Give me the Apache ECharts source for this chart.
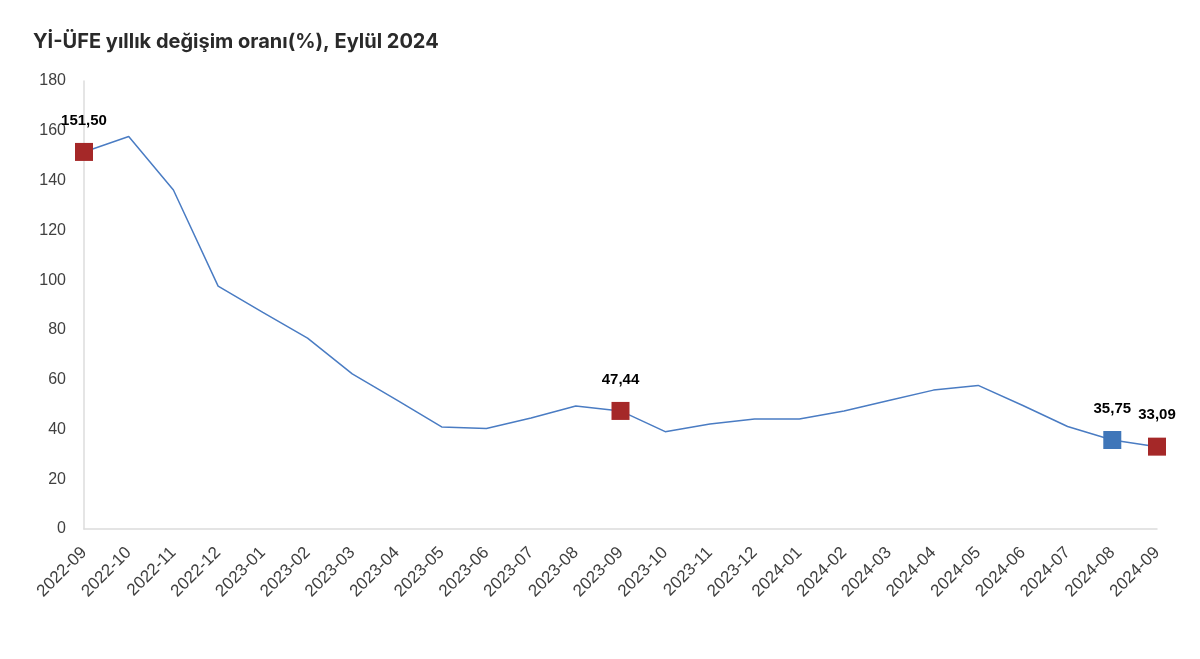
<!DOCTYPE html>
<html>
<head>
<meta charset="utf-8">
<script src="https://cdn.jsdelivr.net/npm/echarts@6/dist/echarts.min.js"></script>
<style>html,body{margin:0;padding:0;background:#fff;}#c{width:1200px;height:659px;}</style>
</head>
<body>
<div id="c"></div>
<script>
const categories = ['2022-09','2022-10','2022-11','2022-12','2023-01','2023-02','2023-03','2023-04','2023-05','2023-06','2023-07','2023-08','2023-09','2023-10','2023-11','2023-12','2024-01','2024-02','2024-03','2024-04','2024-05','2024-06','2024-07','2024-08','2024-09'];
const values = [151.50,157.7,136.2,97.6,87.0,76.7,62.3,51.8,41.0,40.4,44.6,49.4,47.44,39.1,42.2,44.2,44.2,47.4,51.6,55.8,57.7,49.6,41.2,35.75,33.09];
const markedIndex = [0,12,23,24];
const markedColor = ['#a52828','#a52828','#3f76b9','#a52828'];
const yTicks = [0,20,40,60,80,100,120,140,160,180];

const fmt = v => v.toFixed(2).replace('.', ',');
const markData = categories.map((c,i)=>{
  const k = markedIndex.indexOf(i);
  if (k < 0) return null;
  return {value: values[i], itemStyle:{color: markedColor[k], opacity:1}};
});

const chart = echarts.init(document.getElementById('c'), null, {renderer:'canvas'});
chart.setOption({
  animation:false,
  backgroundColor:'#fff',
  title:{text:'Yİ-ÜFE yıllık değişim oranı(%), Eylül 2024', left:28, top:27,
    textStyle:{fontFamily:'Inter, "Open Sans", sans-serif', fontSize:20, fontWeight:'bold', color:'#2a2a2a'}},
  grid:{left:84, right:43, top:81, bottom:130},
  xAxis:{type:'category', data:categories, boundaryGap:false,
    axisLine:{lineStyle:{color:'#dcdcdc', width:1.5}}, axisTick:{show:false},
    axisLabel:{rotate:45, interval:0, color:'#404040', fontSize:17, margin:21, fontFamily:'"Liberation Sans", Arial, sans-serif'}},
  yAxis:{type:'value', min:0, max:180, interval:20,
    axisLine:{show:true, lineStyle:{color:'#dcdcdc', width:1.5}}, axisTick:{show:false}, splitLine:{show:false},
    axisLabel:{color:'#404040', fontSize:16, margin:18, fontFamily:'"Liberation Sans", Arial, sans-serif',
      formatter: v => yTicks.includes(v) ? String(v) : ''}},
  series:[
    {type:'line', data:values, symbol:'none', lineStyle:{color:'#4a7cc3', width:1.5}, z:2},
    {type:'scatter', data:markData, symbol:'rect', symbolSize:18, z:3,
     itemStyle:{opacity:1},
     label:{show:true, position:'top', distance:15, fontSize:15, fontWeight:'bold', color:'#000',
       fontFamily:'"Liberation Sans", Arial, sans-serif', formatter: p => fmt(p.value)}}
  ]
});
</script>
</body>
</html>
